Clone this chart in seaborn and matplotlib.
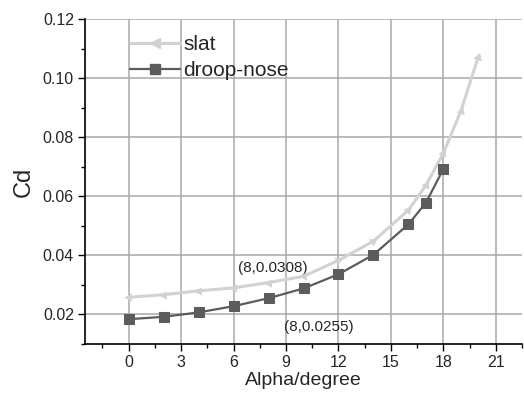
import numpy as np
import pandas as pd
import matplotlib
matplotlib.use("Agg")
import matplotlib.pyplot as plt
from matplotlib.lines import Line2D
from matplotlib.ticker import MultipleLocator
import seaborn as sns

# ---- data ----
slat_alpha = [0, 2, 4, 6, 8, 10, 12, 14, 16, 17, 18, 19, 20]
slat_cd = [0.0258, 0.0267, 0.0280, 0.0290, 0.0308, 0.0329, 0.0383, 0.0448, 0.0553, 0.0637, 0.0746, 0.0888, 0.1072]
droop_alpha = [0, 2, 4, 6, 8, 10, 12, 14, 16, 17, 18]
droop_cd = [0.0184, 0.0192, 0.0207, 0.0228, 0.0255, 0.0288, 0.0336, 0.0402, 0.0505, 0.0578, 0.0692]
series_names = ["slat", "droop-nose"]
annot_texts = ["(8,0.0308)", "(8,0.0255)"]
x_ticks = [0, 3, 6, 9, 12, 15, 18, 21]
y_ticks = [0.02, 0.04, 0.06, 0.08, 0.10, 0.12]

sns.set_style("white")
plt.rcParams['font.family'] = ['Liberation Sans', 'DejaVu Sans']

fig = plt.figure(figsize=(5.24, 3.95), dpi=100)
ax = fig.add_axes([0.1622, 0.1291, 0.834, 0.8228])

slat_col = "#d2d2d2"
droop_col = "#5c5c5c"

df_s = pd.DataFrame({"alpha": slat_alpha, "cd": slat_cd})
df_d = pd.DataFrame({"alpha": droop_alpha, "cd": droop_cd})

ax.set_xlim(-2.5, 22.5)
ax.set_ylim(0.01, 0.12)

sns.lineplot(data=df_s, x="alpha", y="cd", ax=ax, color=slat_col, lw=2.2, zorder=3)
sns.lineplot(data=df_d, x="alpha", y="cd", ax=ax, color=droop_col, lw=1.6, zorder=4,
             marker="s", markersize=7.5, markeredgecolor=droop_col, markerfacecolor=droop_col)

# slat markers: arrowheads oriented along curve (left-pointing on flat part)
fig.canvas.draw()
pts = ax.transData.transform(np.column_stack([slat_alpha, slat_cd]))
for i, (xa, ya) in enumerate(zip(slat_alpha, slat_cd)):
    if xa <= 10:
        ang = 90
    else:
        j0 = max(i - 1, 0)
        j1 = min(i + 1, len(slat_alpha) - 1)
        dx, dy = pts[j1] - pts[j0]
        theta = np.degrees(np.arctan2(dy, dx))
        ang = theta - 90
    sns.scatterplot(x=[xa], y=[ya], ax=ax, marker=(3, 0, ang), s=38,
                    color=slat_col, edgecolor=slat_col, zorder=5, legend=False)

ax.set_xticks(x_ticks)
ax.set_yticks(y_ticks)
ax.set_yticklabels([f"{v:.2f}" for v in y_ticks])
ax.xaxis.set_minor_locator(MultipleLocator(1.5))
ax.yaxis.set_minor_locator(MultipleLocator(0.01))
ax.tick_params(axis="both", which="major", direction="out", length=5, width=1,
               labelsize=11.5, color="black", bottom=True, left=True, pad=3)
ax.tick_params(axis="both", which="minor", direction="out", length=3, width=1,
               color="black", bottom=True, left=True)

ax.grid(True, which="major", color="#a8a8a8", lw=1.1, zorder=0)
ax.set_axisbelow(True)
for s in ["top", "right"]:
    ax.spines[s].set_visible(False)
for s in ["left", "bottom"]:
    ax.spines[s].set_color("black")
    ax.spines[s].set_linewidth(1.2)

ax.set_xlabel("Alpha/degree", fontsize=14, labelpad=1)
ax.set_ylabel("Cd", fontsize=17, labelpad=6)

ax.text(8.24, 0.0356, annot_texts[0], fontsize=11, ha="center", va="center")
ax.text(10.9, 0.0156, annot_texts[1], fontsize=11, ha="center", va="center")

handles = [
    Line2D([], [], color=slat_col, lw=2.2, marker="<", markersize=7,
           markerfacecolor=slat_col, markeredgecolor=slat_col),
    Line2D([], [], color=droop_col, lw=1.6, marker="s", markersize=7,
           markerfacecolor=droop_col, markeredgecolor=droop_col),
]
ax.legend(handles, series_names, loc="upper left", bbox_to_anchor=(0.084, 0.975),
          frameon=False, fontsize=15, handlelength=2.4, handletextpad=0.15,
          labelspacing=0.33, borderaxespad=0.0)

fig.savefig("out.png", dpi=100)
